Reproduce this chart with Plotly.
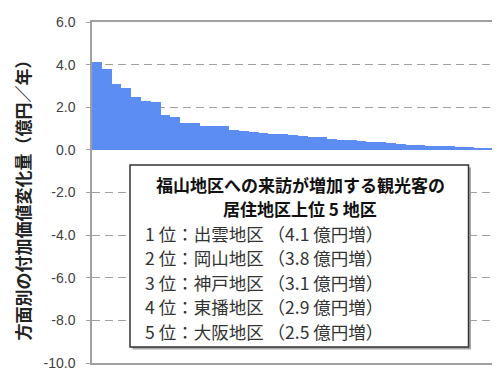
import plotly.graph_objects as go

# Values of each origin region (sorted descending), 億円/年
region_index = list(range(42))
value_change = [4.1, 3.8, 3.1, 2.9, 2.5, 2.3, 2.25, 1.63, 1.56, 1.25,
                1.24, 1.14, 1.10, 1.10, 0.92, 0.90, 0.85, 0.77, 0.76, 0.73,
                0.70, 0.66, 0.62, 0.60, 0.53, 0.46, 0.45, 0.44, 0.38, 0.35,
                0.33, 0.26, 0.25, 0.22, 0.20, 0.20, 0.19, 0.15, 0.14, 0.11,
                0.10, 0.09]

tick_vals = [6, 4, 2, 0, -2, -4, -6, -8, -10]
tick_labels = ["6.0", "4.0", "2.0", "0.0", "-2.0", "-4.0", "-6.0", "-8.0", "-10.0"]

box_title = ["福山地区への来訪が増加する観光客の", "居住地区上位 5 地区"]
top_ranks = [1, 2, 3, 4, 5]
top_names = ["出雲", "岡山", "神戸", "東播", "大阪"]
top_amounts = ["4.1", "3.8", "3.1", "2.9", "2.5"]

y_title = "方面別の付加価値変化量（億円／年）"

JP = "Noto Sans CJK JP"
OFF = 8                      # page body margin
SCREEN_L, SCREEN_T, SCREEN_B = 92, 22, 363   # plot area on screen
SCREEN_R = 500
W, H = 500 - OFF, 370 - OFF
ML, MT = SCREEN_L - OFF, SCREEN_T - OFF
MB = H + OFF - SCREEN_B
PW = SCREEN_R - SCREEN_L
PH = SCREEN_B - SCREEN_T

def px(x):
    return (x - SCREEN_L) / PW

def py(y):
    return (SCREEN_B - y) / PH

fig = go.Figure()
fig.add_trace(go.Bar(
    x=region_index, y=value_change,
    marker=dict(color="#5b8df3", line=dict(width=0)),
    hoverinfo="skip",
))

shapes = [
    # shadow
    dict(type="rect", xref="paper", yref="paper",
         x0=px(132.5), x1=px(471), y0=py(349.5), y1=py(167.5),
         fillcolor="#a8a8a8", line=dict(width=0), layer="above"),
    dict(type="rect", xref="paper", yref="paper",
         x0=px(130), x1=px(468.5), y0=py(347), y1=py(165),
         fillcolor="white", line=dict(color="#333333", width=1.5), layer="above"),
]

annotations = [
    dict(text=y_title, xref="paper", yref="paper", x=px(22), y=py(196.5),
         textangle=-90, showarrow=False, xanchor="center", yanchor="middle",
         font=dict(family=JP, size=17, color="#222222", weight="bold")),
]
title_y = [184.5, 208.5]
for t, yy in zip(box_title, title_y):
    annotations.append(dict(text=t, xref="paper", yref="paper", x=px(300), y=py(yy),
                            showarrow=False, xanchor="center", yanchor="middle",
                            font=dict(family=JP, size=17, color="#111111", weight="bold")))
list_y = [233.3, 257.7, 282.0, 306.7, 331.5]
for r, n, a, yy in zip(top_ranks, top_names, top_amounts, list_y):
    annotations.append(dict(text=f"{r} 位：{n}地区 （{a} 億円増）", xref="paper", yref="paper",
                            x=px(143), y=py(yy), showarrow=False,
                            xanchor="left", yanchor="middle",
                            font=dict(family=JP, size=17.5, color="#333333")))

fig.update_layout(
    width=W, height=H,
    margin=dict(l=ML, r=0, t=MT, b=MB, pad=0),
    paper_bgcolor="white", plot_bgcolor="white",
    bargap=0, showlegend=False,
    shapes=shapes, annotations=annotations,
    xaxis=dict(range=[-0.5, -0.5 + PW / 9.8], showticklabels=False, ticks="",
               showgrid=False, zeroline=False, showline=True,
               linecolor="#a0a0a0", linewidth=1.5, mirror=True, fixedrange=True),
    yaxis=dict(range=[-10, 6], tickvals=tick_vals, ticktext=tick_labels,
               ticks="outside", ticklen=4, tickcolor="#a0a0a0",
               ticklabelstandoff=8, ticklabeloverflow="allow",
               tickfont=dict(family="Liberation Sans", size=14, color="#404040"),
               showgrid=True, gridcolor="#a0a0a0", griddash="8px,5px", gridwidth=1,
               zeroline=False, showline=True, linecolor="#a0a0a0", linewidth=1.5,
               fixedrange=True),
)

fig.write_html("out.html", config={"displayModeBar": False})
